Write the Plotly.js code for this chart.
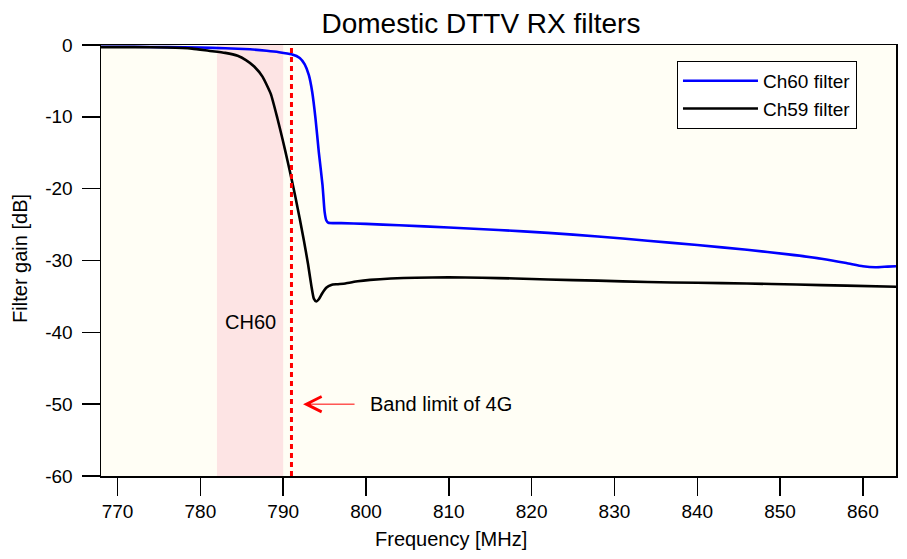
<!DOCTYPE html>
<html>
<head>
<meta charset="utf-8">
<script src="https://cdn.plot.ly/plotly-3.0.1.min.js"></script>
<style>html,body{margin:0;padding:0;background:#fff;}#chart{width:907px;height:559px;}</style>
</head>
<body>
<div id="chart"></div>
<script>
// ---- Data ----
const ch60Freq = [768, 772, 776, 780, 783, 786, 788, 789.5, 791, 792, 792.6, 793.1, 793.5, 793.9, 794.3, 794.75, 795.0, 795.2, 795.45, 797, 800, 804, 810, 816, 822, 828, 834, 840, 846, 851, 855, 858, 860, 861.5, 863, 864];
const ch60Gain = [-0.25, -0.25, -0.3, -0.35, -0.45, -0.6, -0.8, -1.0, -1.3, -1.8, -2.7, -4.2, -6.5, -10.2, -14.9, -19.5, -23.2, -24.4, -24.75, -24.8, -24.9, -25.1, -25.4, -25.75, -26.15, -26.65, -27.25, -27.85, -28.5, -29.15, -29.75, -30.35, -30.8, -30.95, -30.85, -30.8];

const ch59Freq = [768, 772, 776, 779, 781, 783, 784.5, 785.5, 786.5, 787.5, 788.5, 789.3, 790, 790.5, 791, 791.5, 792, 792.5, 793, 793.4, 793.7, 794, 794.3, 794.7, 795.2, 795.8, 796.5, 797.5, 799, 800.5, 803, 806, 810, 814, 818, 822, 828, 834, 840, 846, 852, 858, 864];
const ch59Gain = [-0.3, -0.3, -0.35, -0.5, -0.8, -1.1, -1.5, -2.1, -3.0, -4.4, -6.8, -10.2, -13.5, -16.0, -18.6, -21.3, -24.2, -27.2, -30.5, -33.5, -35.3, -35.7, -35.4, -34.6, -33.8, -33.4, -33.3, -33.2, -32.9, -32.7, -32.5, -32.4, -32.35, -32.4, -32.5, -32.65, -32.8, -33.0, -33.1, -33.2, -33.35, -33.5, -33.65];

const seriesNames = ["Ch60 filter", "Ch59 filter"];
const xTickVals = [770, 780, 790, 800, 810, 820, 830, 840, 850, 860];
const xTickText = ["770", "780", "790", "800", "810", "820", "830", "840", "850", "860"];
const yTickVals = [0, -10, -20, -30, -40, -50, -60];
const yTickText = ["0", "-10", "-20", "-30", "-40", "-50", "-60"];
const xRange = [768, 864];
const yRange = [-60, 0];

// Reference markers
const ch60Band = [782, 790];      // CH60 channel band (MHz)
const bandLimit4G = 791;           // band limit of 4G (MHz)
const arrowTip = [792.4, -50];
const arrowTail = 798.8;
const ch60LabelPos = [786.1, -38.6];
const bandLabelX = 800.3;

const FONT = "Liberation Sans, Arial, Helvetica, sans-serif";

const traces = [
  {x: ch60Freq, y: ch60Gain, name: seriesNames[0], mode: "lines", type: "scatter",
   line: {color: "#0000ff", width: 2.6, shape: "spline", smoothing: 0.5}},
  {x: ch59Freq, y: ch59Gain, name: seriesNames[1], mode: "lines", type: "scatter",
   line: {color: "#000000", width: 2.6, shape: "spline", smoothing: 0.5}}
];

const layout = {
  width: 907, height: 559,
  margin: {l: 101, r: 11, t: 45, b: 83},
  paper_bgcolor: "#ffffff",
  plot_bgcolor: "#fffef5",
  font: {family: FONT, size: 19, color: "#000"},
  title: {text: "Domestic DTTV RX filters", font: {family: FONT, size: 28, color: "#000"},
          x: 0.5303, xref: "container", xanchor: "center", y: 0.959, yref: "container", yanchor: "middle"},
  showlegend: true,
  legend: {x: 0.7245, y: 0.963, xanchor: "left", yanchor: "top",
           bgcolor: "#ffffff", bordercolor: "#000", borderwidth: 1,
           font: {family: FONT, size: 19, color: "#000"}, itemwidth: 75,
           tracegroupgap: 0},
  xaxis: {range: xRange, tickvals: xTickVals, ticktext: xTickText,
          ticks: "outside", ticklen: 18, tickwidth: 1.5, tickcolor: "#000",
          showline: true, linecolor: "#000", linewidth: 1.5, mirror: true,
          showgrid: false, zeroline: false,
          tickfont: {family: FONT, size: 19, color: "#000"}},
  yaxis: {range: yRange, tickvals: yTickVals, ticktext: yTickText,
          ticks: "outside", ticklen: 18, tickwidth: 1.5, tickcolor: "#000",
          showline: true, linecolor: "#000", linewidth: 1.5, mirror: true,
          showgrid: false, zeroline: false, ticklabelstandoff: 5,
          tickfont: {family: FONT, size: 19, color: "#000"}},
  shapes: [
    {type: "rect", xref: "x", yref: "paper", x0: ch60Band[0], x1: ch60Band[1], y0: 0, y1: 1,
     fillcolor: "#fde4e4", line: {width: 0}, layer: "below"},
    {type: "line", xref: "x", yref: "paper", x0: bandLimit4G, x1: bandLimit4G, y0: 0, y1: 1,
     line: {color: "#ff0000", width: 3, dash: "5px,4px"}, layer: "above"}
  ],
  annotations: [
    {x: arrowTip[0], y: arrowTip[1], xref: "x", yref: "y", ax: arrowTail, ay: arrowTip[1],
     axref: "x", ayref: "y", text: "", showarrow: true, arrowhead: 5, arrowsize: 3,
     arrowwidth: 1, arrowcolor: "#ff0000", standoff: 0, startstandoff: 0},
    {x: bandLabelX, y: arrowTip[1], xref: "x", yref: "y", text: "Band limit of 4G",
     showarrow: false, xanchor: "left", yanchor: "middle", font: {family: FONT, size: 20, color: "#000"}},
    {x: ch60LabelPos[0], y: ch60LabelPos[1], xref: "x", yref: "y", text: "CH60",
     showarrow: false, xanchor: "center", yanchor: "middle", font: {family: FONT, size: 20, color: "#000"}},
    {x: 0.440, y: -0.146, xref: "paper", yref: "paper", text: "Frequency [MHz]",
     showarrow: false, xanchor: "center", yanchor: "middle", font: {family: FONT, size: 20, color: "#000"}},
    {x: -0.1019, y: 0.506, xref: "paper", yref: "paper", text: "Filter gain [dB]", textangle: -90,
     showarrow: false, xanchor: "center", yanchor: "middle", font: {family: FONT, size: 20, color: "#000"}}
  ]
};

Plotly.newPlot("chart", traces, layout, {displayModeBar: false, staticPlot: true});
</script>
</body>
</html>
